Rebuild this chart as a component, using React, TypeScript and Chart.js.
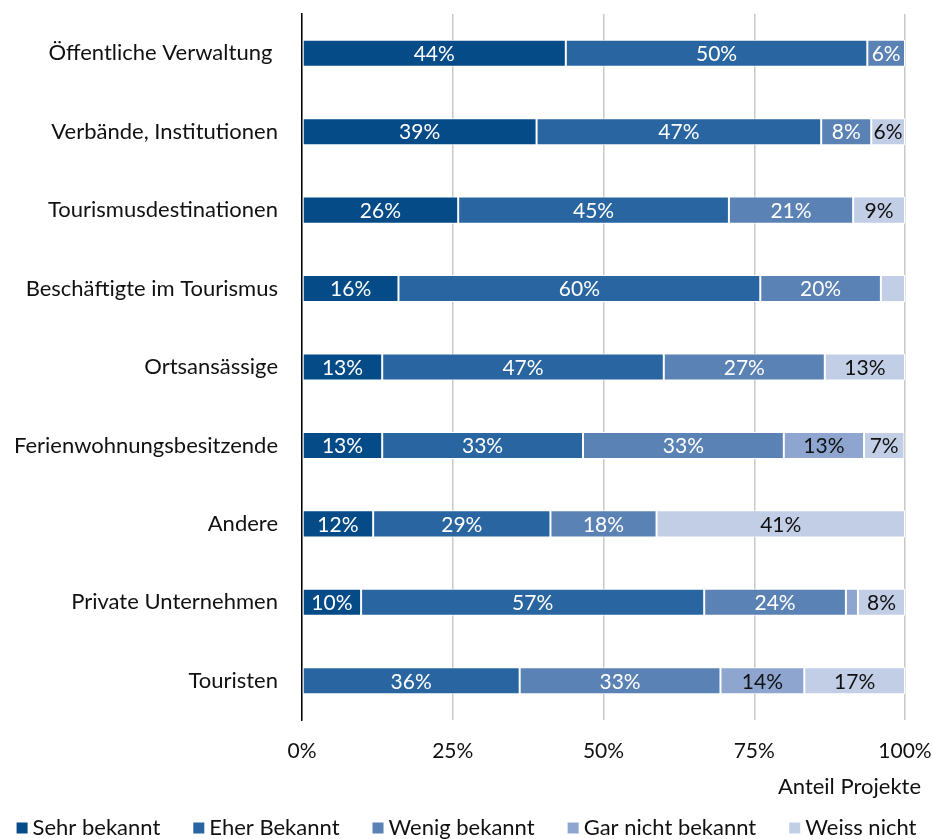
import React, { useEffect, useRef } from "react";
import { Chart, registerables } from "chart.js";

Chart.register(...registerables);

const categories = [
  "Öffentliche Verwaltung ",
  "Verbände, Institutionen",
  "Tourismusdestinationen",
  "Beschäftigte im Tourismus",
  "Ortsansässige",
  "Ferienwohnungsbesitzende",
  "Andere",
  "Private Unternehmen",
  "Touristen",
];

const seriesNames = ["Sehr bekannt", "Eher Bekannt", "Wenig bekannt", "Gar nicht bekannt", "Weiss nicht"];
const sehrBekannt = [43.75, 38.9, 25.9, 16, 13.3, 13.3, 11.8, 9.8, 0];
const eherBekannt = [50, 47.2, 44.9, 60, 46.7, 33.3, 29.4, 56.9, 36.1];
const wenigBekannt = [6.25, 8.3, 20.6, 20, 26.7, 33.3, 17.6, 23.5, 33.3];
const garNichtBekannt = [0, 0, 0, 0, 0, 13.3, 0, 2.0, 13.9];
const weissNicht = [0, 5.6, 8.6, 4, 13.3, 6.7, 41.2, 7.8, 16.7];
const xTicks = [0, 25, 50, 75, 100];
const axisTitle = "Anteil Projekte";

const colors = ["#054b87", "#2966a1", "#5b82b4", "#8ea6cf", "#c2cde6"];
const labelColors = ["#ffffff", "#ffffff", "#ffffff", "#111111", "#111111"];
const FONT = "Lato";
const FS = 22;
const NUM_FS = 21;

export default function App() {
  const ref = useRef<HTMLCanvasElement | null>(null);
  useEffect(() => {
    const canvas = ref.current;
    if (!canvas) return;
    const allSeries = [sehrBekannt, eherBekannt, wenigBekannt, garNichtBekannt, weissNicht];

    const labelPlugin = {
      id: "segLabels",
      afterDatasetsDraw(chart: any) {
        const ctx = chart.ctx;
        ctx.save();
        ctx.font = `${NUM_FS}px ${FONT}`;
        ctx.textAlign = "center";
        ctx.textBaseline = "middle";
        chart.data.datasets.forEach((ds: any, di: number) => {
          const meta = chart.getDatasetMeta(di);
          meta.data.forEach((el: any, i: number) => {
            const v = ds.data[i];
            if (!v || v < 5) return;
            ctx.fillStyle = labelColors[di];
            ctx.fillText(Math.round(v) + "%", (el.x + el.base) / 2, el.y + 1);
          });
        });
        ctx.restore();
      },
      afterDraw(chart: any) {
        const ctx = chart.ctx;
        ctx.save();
        ctx.font = `${FS}px ${FONT}`;
        ctx.fillStyle = "#111111";
        ctx.textBaseline = "middle";
        ctx.textAlign = "right";
        ctx.fillText(axisTitle, 921, 787);
        // legend
        ctx.textAlign = "left";
        const box = 11;
        const gap = 5;
        const spacing = 33;
        const widths = seriesNames.map((n) => box + gap + ctx.measureText(n).width);
        const total = widths.reduce((a, b) => a + b, 0) + spacing * (seriesNames.length - 1);
        let x = (chart.width - total) / 2;
        const y = 827;
        seriesNames.forEach((n, i) => {
          ctx.fillStyle = colors[i];
          ctx.fillRect(x, y - box / 2 + 1, box, box);
          ctx.fillStyle = "#111111";
          ctx.fillText(n, x + box + gap, y + 1);
          x += widths[i] + spacing;
        });
        ctx.restore();
      },
    };

    const chart = new Chart(canvas, {
      type: "bar",
      data: {
        labels: categories,
        datasets: seriesNames.map((name, i) => ({
          label: name,
          data: allSeries[i],
          backgroundColor: colors[i],
          borderColor: "#ffffff",
          borderWidth: 1,
          borderSkipped: false,
          barPercentage: 0.345,
          categoryPercentage: 1,
        })),
      },
      options: {
        indexAxis: "y",
        animation: false,
        responsive: false,
        maintainAspectRatio: false,
        layout: { padding: { top: 14, left: 0, right: 28, bottom: 79 } },
        plugins: { legend: { display: false }, tooltip: { enabled: false } },
        scales: {
          x: {
            stacked: true,
            min: 0,
            max: 100,
            afterBuildTicks(scale: any) {
              scale.ticks = xTicks.map((v) => ({ value: v }));
            },
            afterFit(scale: any) {
              scale.height = 40;
              scale.paddingLeft = 0;
              scale.paddingRight = 0;
            },
            ticks: {
              callback: (v: any) => v + "%",
              font: { family: FONT, size: NUM_FS },
              color: "#111111",
              padding: 19,
              maxRotation: 0,
            },
            grid: { color: "#c8c8c8", lineWidth: 1.5, drawTicks: false },
            border: { display: false },
          },
          y: {
            stacked: true,
            afterFit(scale: any) {
              scale.width = 302;
              scale.paddingTop = 0;
              scale.paddingBottom = 0;
            },
            ticks: {
              font: { family: FONT, size: FS },
              color: "#111111",
              padding: 24,
            },
            grid: { display: false, drawTicks: false },
            border: { display: true, color: "#000000", width: 1.5 },
          },
        },
      },
      plugins: [labelPlugin],
    } as any);
    return () => chart.destroy();
  }, []);

  return (
    <div style={{ position: "fixed", left: 0, top: 0, width: 933, height: 839, background: "#fff" }}>
      <canvas ref={ref} width={933} height={839} style={{ display: "block" }} />
    </div>
  );
}
